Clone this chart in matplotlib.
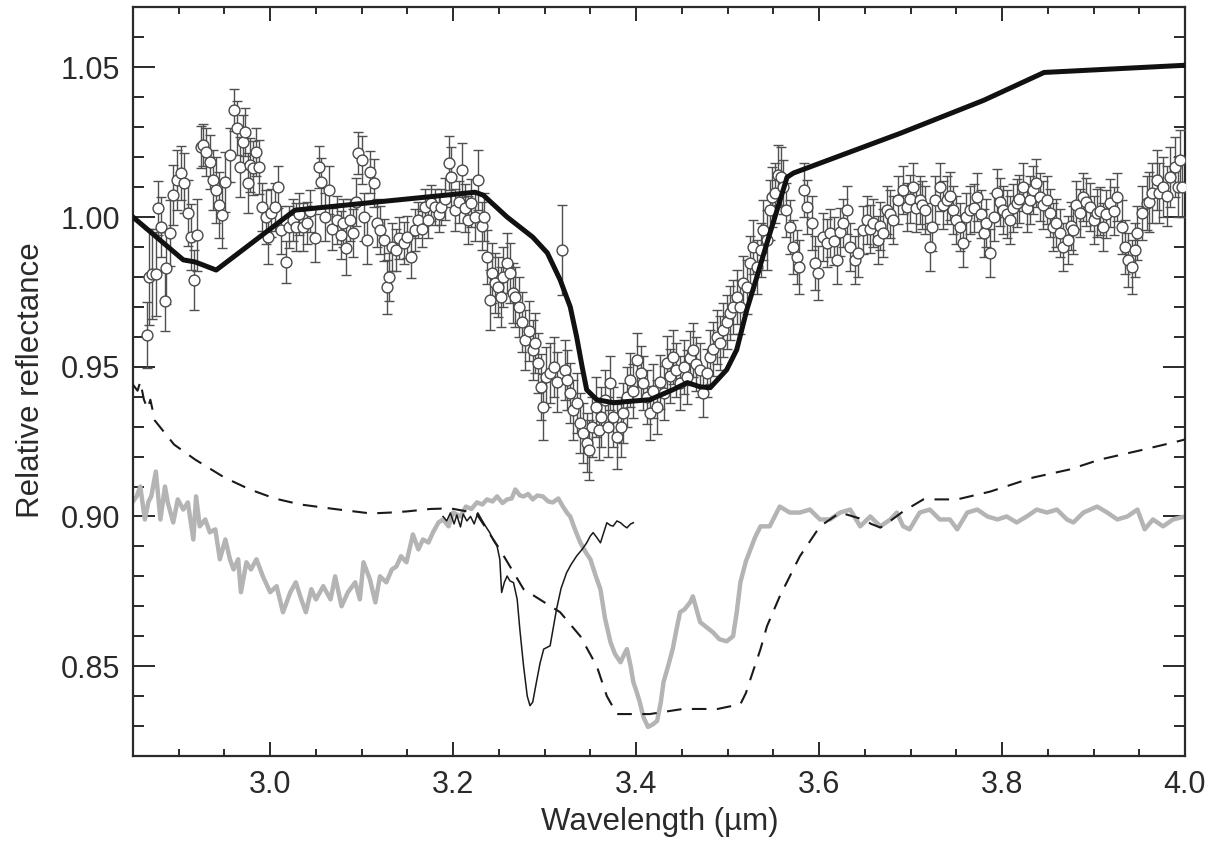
import numpy as np
import matplotlib
matplotlib.use("Agg")
import matplotlib.pyplot as plt
from matplotlib.ticker import MultipleLocator

plt.rcParams['font.family'] = ['Liberation Sans', 'DejaVu Sans']

# --- measured spectrum (open circles with error bars) ---
pts_x = [
    2.865, 2.868, 2.871, 2.875, 2.877, 2.881, 2.885, 2.886, 2.890, 2.894,
    2.898, 2.902, 2.906, 2.910, 2.913, 2.917, 2.920, 2.924, 2.927, 2.930,
    2.934, 2.938, 2.941, 2.944, 2.947, 2.951, 2.956, 2.960, 2.964, 2.967,
    2.970, 2.973, 2.976, 2.978, 2.981, 2.985, 2.988, 2.991, 2.995, 2.998,
    3.001, 3.005, 3.009, 3.012, 3.017, 3.021, 3.025, 3.028, 3.032, 3.036,
    3.040, 3.044, 3.049, 3.053, 3.056, 3.060, 3.064, 3.068, 3.073, 3.077,
    3.080, 3.083, 3.087, 3.090, 3.094, 3.096, 3.100, 3.103, 3.106, 3.109,
    3.113, 3.117, 3.120, 3.124, 3.128, 3.130, 3.133, 3.137, 3.141, 3.146,
    3.150, 3.154, 3.158, 3.162, 3.166, 3.169, 3.173, 3.176, 3.180, 3.184,
    3.187, 3.191, 3.195, 3.198, 3.202, 3.206, 3.210, 3.213, 3.216, 3.220,
    3.224, 3.227, 3.231, 3.234, 3.237, 3.240, 3.243, 3.246, 3.249, 3.252,
    3.255, 3.259, 3.262, 3.265, 3.268, 3.272, 3.275, 3.279, 3.283, 3.287,
    3.290, 3.293, 3.296, 3.298, 3.302, 3.306, 3.310, 3.314, 3.319, 3.322,
    3.325, 3.328, 3.331, 3.335, 3.339, 3.342, 3.346, 3.349, 3.352, 3.356,
    3.359, 3.362, 3.366, 3.369, 3.372, 3.375, 3.379, 3.383, 3.386, 3.390,
    3.393, 3.397, 3.401, 3.405, 3.408, 3.412, 3.415, 3.419, 3.423, 3.426,
    3.430, 3.434, 3.437, 3.440, 3.444, 3.448, 3.452, 3.456, 3.459, 3.462,
    3.466, 3.470, 3.473, 3.477, 3.481, 3.484, 3.488, 3.492, 3.495, 3.499,
    3.503, 3.506, 3.510, 3.514, 3.517, 3.521, 3.525, 3.528, 3.532, 3.536,
    3.539, 3.543, 3.546, 3.549, 3.552, 3.555, 3.558, 3.561, 3.564, 3.568,
    3.572, 3.576, 3.578, 3.583, 3.587, 3.592, 3.596, 3.599, 3.604, 3.609,
    3.612, 3.616, 3.620, 3.623, 3.626, 3.631, 3.634, 3.639, 3.643, 3.648,
    3.652, 3.656, 3.659, 3.664, 3.667, 3.670, 3.674, 3.677, 3.681, 3.686,
    3.692, 3.696, 3.699, 3.703, 3.706, 3.710, 3.713, 3.716, 3.721, 3.724,
    3.727, 3.732, 3.736, 3.740, 3.743, 3.746, 3.750, 3.754, 3.757, 3.761,
    3.765, 3.769, 3.773, 3.777, 3.780, 3.783, 3.787, 3.791, 3.795, 3.798,
    3.801, 3.805, 3.809, 3.812, 3.816, 3.819, 3.823, 3.827, 3.831, 3.834,
    3.837, 3.842, 3.845, 3.849, 3.852, 3.856, 3.859, 3.863, 3.867, 3.872,
    3.875, 3.878, 3.881, 3.885, 3.889, 3.892, 3.896, 3.900, 3.904, 3.907,
    3.910, 3.914, 3.918, 3.922, 3.926, 3.931, 3.934, 3.938, 3.942, 3.945,
    3.948, 3.953, 3.958, 3.961, 3.964, 3.969, 3.972, 3.976, 3.980, 3.984,
    3.989, 3.992, 3.995, 3.997,
]
pts_y = [
    0.9607, 0.9800, 0.9810, 0.9810, 1.0030, 0.9967, 0.9720, 0.9830, 0.9947, 1.0073,
    1.0123, 1.0147, 1.0113, 1.0013, 0.9933, 0.9790, 0.9940, 1.0233, 1.0240, 1.0217,
    1.0183, 1.0123, 1.0090, 1.0040, 1.0007, 1.0117, 1.0207, 1.0357, 1.0297, 1.0167,
    1.0250, 1.0283, 1.0113, 1.0173, 1.0163, 1.0217, 1.0167, 1.0033, 1.0000, 0.9933,
    1.0013, 1.0033, 1.0100, 0.9957, 0.9850, 0.9967, 0.9990, 0.9967, 1.0010, 0.9967,
    0.9980, 1.0020, 0.9930, 1.0167, 1.0117, 1.0000, 1.0090, 0.9960, 0.9990, 0.9940,
    0.9980, 0.9897, 0.9990, 0.9947, 1.0050, 1.0213, 1.0190, 1.0000, 0.9923, 1.0150,
    1.0113, 0.9980, 0.9957, 0.9923, 0.9767, 0.9800, 0.9900, 0.9890, 0.9930, 0.9913,
    0.9933, 0.9867, 0.9957, 0.9990, 0.9960, 1.0033, 0.9990, 1.0047, 1.0033, 1.0010,
    1.0033, 1.0060, 1.0180, 1.0133, 1.0023, 1.0050, 1.0157, 1.0030, 0.9990, 1.0047,
    1.0000, 1.0123, 0.9970, 1.0000, 0.9867, 0.9723, 0.9813, 0.9780, 0.9767, 0.9733,
    0.9800, 0.9847, 0.9813, 0.9747, 0.9733, 0.9700, 0.9650, 0.9590, 0.9620, 0.9557,
    0.9580, 0.9513, 0.9433, 0.9367, 0.9467, 0.9480, 0.9500, 0.9450, 0.9890, 0.9490,
    0.9457, 0.9413, 0.9357, 0.9380, 0.9313, 0.9280, 0.9247, 0.9223, 0.9300, 0.9367,
    0.9290, 0.9333, 0.9390, 0.9300, 0.9447, 0.9333, 0.9267, 0.9300, 0.9347, 0.9400,
    0.9457, 0.9420, 0.9523, 0.9480, 0.9447, 0.9400, 0.9347, 0.9420, 0.9367, 0.9450,
    0.9413, 0.9513, 0.9470, 0.9533, 0.9490, 0.9447, 0.9500, 0.9467, 0.9530, 0.9557,
    0.9510, 0.9490, 0.9413, 0.9480, 0.9533, 0.9560, 0.9600, 0.9580, 0.9623, 0.9650,
    0.9680, 0.9700, 0.9733, 0.9700, 0.9780, 0.9767, 0.9847, 0.9900, 0.9833, 0.9890,
    0.9957, 0.9923, 1.0023, 1.0067, 1.0080, 1.0140, 1.0133, 1.0100, 1.0023, 0.9967,
    0.9900, 0.9867, 0.9833, 1.0090, 1.0033, 0.9980, 0.9847, 0.9813, 0.9933, 0.9913,
    0.9947, 0.9920, 0.9857, 0.9950, 0.9980, 1.0023, 0.9900, 0.9857, 0.9880, 0.9957,
    0.9990, 0.9960, 0.9980, 0.9923, 0.9970, 0.9947, 1.0023, 1.0010, 0.9990, 1.0057,
    1.0090, 1.0033, 1.0060, 1.0100, 1.0030, 1.0057, 1.0040, 1.0023, 0.9900, 0.9967,
    1.0057, 1.0100, 1.0040, 1.0057, 1.0070, 1.0023, 0.9990, 0.9967, 0.9913, 1.0000,
    1.0023, 1.0030, 1.0067, 1.0010, 0.9947, 0.9980, 0.9880, 1.0000, 1.0080, 1.0050,
    1.0023, 1.0010, 0.9990, 1.0030, 1.0047, 1.0060, 1.0100, 1.0030, 1.0057, 1.0090,
    1.0113, 1.0067, 1.0040, 1.0057, 1.0013, 0.9967, 0.9980, 0.9947, 0.9900, 0.9923,
    0.9970, 0.9957, 1.0040, 1.0013, 1.0067, 1.0050, 1.0033, 0.9990, 1.0013, 1.0020,
    0.9967, 1.0010, 1.0047, 1.0020, 1.0067, 0.9967, 0.9900, 0.9857, 0.9833, 0.9890,
    0.9947, 1.0013, 1.0047, 1.0050, 1.0080, 1.0123, 1.0080, 1.0100, 1.0070, 1.0133,
    1.0167, 1.0100, 1.0190, 1.0100,
]
pts_err = [
    0.011, 0.016, 0.015, 0.014, 0.009, 0.010, 0.010, 0.012, 0.011, 0.010,
    0.010, 0.009, 0.010, 0.011, 0.011, 0.010, 0.012, 0.007, 0.007, 0.008,
    0.009, 0.010, 0.011, 0.011, 0.011, 0.010, 0.009, 0.007, 0.009, 0.010,
    0.009, 0.008, 0.010, 0.009, 0.009, 0.008, 0.009, 0.008, 0.009, 0.009,
    0.008, 0.008, 0.007, 0.008, 0.007, 0.007, 0.007, 0.008, 0.007, 0.008,
    0.007, 0.007, 0.008, 0.007, 0.008, 0.008, 0.008, 0.007, 0.008, 0.008,
    0.008, 0.009, 0.007, 0.008, 0.008, 0.007, 0.008, 0.008, 0.008, 0.007,
    0.008, 0.008, 0.008, 0.007, 0.009, 0.008, 0.008, 0.007, 0.007, 0.007,
    0.007, 0.007, 0.007, 0.006, 0.006, 0.006, 0.006, 0.006, 0.006, 0.006,
    0.006, 0.007, 0.009, 0.010, 0.007, 0.007, 0.009, 0.008, 0.008, 0.008,
    0.008, 0.010, 0.008, 0.008, 0.009, 0.010, 0.010, 0.010, 0.010, 0.010,
    0.010, 0.010, 0.010, 0.010, 0.010, 0.010, 0.010, 0.010, 0.010, 0.010,
    0.010, 0.010, 0.011, 0.011, 0.010, 0.010, 0.010, 0.010, 0.015, 0.010,
    0.010, 0.010, 0.010, 0.010, 0.010, 0.010, 0.010, 0.010, 0.010, 0.010,
    0.010, 0.010, 0.010, 0.010, 0.009, 0.010, 0.011, 0.010, 0.010, 0.010,
    0.009, 0.009, 0.009, 0.009, 0.009, 0.009, 0.009, 0.009, 0.009, 0.009,
    0.009, 0.009, 0.009, 0.009, 0.009, 0.009, 0.009, 0.009, 0.009, 0.009,
    0.009, 0.009, 0.008, 0.008, 0.009, 0.009, 0.009, 0.009, 0.009, 0.009,
    0.009, 0.009, 0.009, 0.009, 0.009, 0.009, 0.009, 0.009, 0.009, 0.009,
    0.010, 0.010, 0.010, 0.010, 0.010, 0.010, 0.010, 0.009, 0.009, 0.009,
    0.009, 0.009, 0.009, 0.009, 0.009, 0.009, 0.009, 0.009, 0.008, 0.008,
    0.008, 0.008, 0.008, 0.008, 0.008, 0.008, 0.008, 0.008, 0.008, 0.008,
    0.008, 0.008, 0.008, 0.008, 0.008, 0.008, 0.008, 0.008, 0.008, 0.008,
    0.008, 0.008, 0.008, 0.008, 0.008, 0.008, 0.008, 0.008, 0.008, 0.008,
    0.008, 0.008, 0.008, 0.008, 0.008, 0.008, 0.008, 0.008, 0.008, 0.008,
    0.008, 0.008, 0.008, 0.008, 0.008, 0.008, 0.008, 0.008, 0.008, 0.008,
    0.008, 0.008, 0.008, 0.008, 0.008, 0.008, 0.008, 0.008, 0.008, 0.008,
    0.008, 0.008, 0.008, 0.008, 0.008, 0.008, 0.008, 0.008, 0.008, 0.008,
    0.008, 0.008, 0.008, 0.008, 0.008, 0.008, 0.008, 0.008, 0.008, 0.008,
    0.008, 0.008, 0.008, 0.008, 0.008, 0.009, 0.009, 0.009, 0.009, 0.009,
    0.009, 0.009, 0.009, 0.010, 0.010, 0.010, 0.010, 0.010, 0.010, 0.010,
    0.010, 0.010, 0.010, 0.010,
]

# --- thick black model curve ---
model_x = [2.85, 2.905, 2.918, 2.941, 3.027, 3.224, 3.233, 3.259, 3.287, 3.303,
           3.317, 3.328, 3.335, 3.341, 3.346, 3.357, 3.375, 3.415, 3.44, 3.456,
           3.47, 3.481, 3.499, 3.51, 3.521, 3.532, 3.543, 3.554, 3.565, 3.572,
           3.689, 3.78, 3.846, 4.0]
model_y = [1.0, 0.9857, 0.985, 0.9823, 1.0023, 1.0083, 1.0073, 1.0, 0.9933, 0.988,
           0.979, 0.970, 0.960, 0.950, 0.9423, 0.939, 0.938, 0.939, 0.9423, 0.9447,
           0.9433, 0.943, 0.949, 0.9557, 0.969, 0.980, 0.9913, 1.0023, 1.0133, 1.0147,
           1.028, 1.039, 1.0483, 1.0507]

# --- dashed lab spectrum ---
dash_x = [2.85, 2.855, 2.858, 2.862, 2.866, 2.869, 2.874, 2.895, 2.918, 2.95,
          2.978, 3.005, 3.033, 3.07, 3.11, 3.131, 3.15, 3.175, 3.197, 3.215,
          3.226, 3.251, 3.277, 3.317, 3.339, 3.357, 3.368, 3.379, 3.415, 3.451,
          3.489, 3.514, 3.52, 3.525, 3.536, 3.543, 3.557, 3.568, 3.579, 3.601,
          3.623, 3.648, 3.657, 3.667, 3.68, 3.692, 3.714, 3.751, 3.787, 3.834,
          3.874, 3.907, 3.95, 3.987, 4.0]
dash_y = [0.944, 0.942, 0.945, 0.939, 0.936, 0.939, 0.932, 0.924, 0.919, 0.913,
          0.909, 0.906, 0.904, 0.9025, 0.901, 0.9013, 0.9017, 0.9025, 0.9027, 0.9017,
          0.9007, 0.889, 0.8757, 0.868, 0.860, 0.850, 0.840, 0.834, 0.834, 0.8357,
          0.8357, 0.8373, 0.841, 0.8457, 0.8557, 0.8633, 0.8733, 0.880, 0.8867, 0.8967,
          0.9013, 0.899, 0.8975, 0.8963, 0.899, 0.9017, 0.9057, 0.9057, 0.9083, 0.913,
          0.9157, 0.919, 0.922, 0.9247, 0.9257]

# --- thin black lab spectrum ---
thin_x = [3.189, 3.193, 3.197, 3.201, 3.204, 3.208, 3.211, 3.215, 3.219, 3.223,
          3.227, 3.232, 3.236, 3.240, 3.244, 3.248, 3.251, 3.253, 3.256, 3.259,
          3.262, 3.266, 3.270, 3.273, 3.277, 3.281, 3.284, 3.287, 3.291, 3.295,
          3.299, 3.306, 3.313, 3.318, 3.324, 3.329, 3.335, 3.341, 3.346, 3.350,
          3.353, 3.357, 3.361, 3.365, 3.368, 3.372, 3.375, 3.379, 3.383, 3.387,
          3.390, 3.394, 3.397]
thin_y = [0.900, 0.8985, 0.9012, 0.8975, 0.9005, 0.8965, 0.9008, 0.8985, 0.900, 0.8975,
          0.9012, 0.8985, 0.8965, 0.8946, 0.892, 0.8901, 0.8857, 0.8746, 0.878, 0.8801,
          0.8785, 0.8779, 0.8723, 0.862, 0.850, 0.840, 0.8368, 0.838, 0.8446, 0.851,
          0.8557, 0.8568, 0.869, 0.876, 0.8812, 0.884, 0.8868, 0.889, 0.8912, 0.8935,
          0.8946, 0.893, 0.8912, 0.895, 0.8979, 0.897, 0.8968, 0.8985, 0.8979, 0.8968,
          0.8962, 0.8975, 0.8979]

# --- grey lab spectrum ---
grey_x = [2.850, 2.854, 2.858, 2.863, 2.867, 2.870, 2.875, 2.880, 2.885, 2.888,
          2.894, 2.899, 2.905, 2.910, 2.916, 2.919, 2.923, 2.929, 2.934, 2.940,
          2.945, 2.951, 2.956, 2.960, 2.965, 2.968, 2.974, 2.979, 2.985, 2.992,
          3.000, 3.007, 3.014, 3.022, 3.028, 3.034, 3.039, 3.045, 3.050, 3.058,
          3.066, 3.071, 3.078, 3.085, 3.093, 3.098, 3.102, 3.109, 3.115, 3.120,
          3.127, 3.133, 3.138, 3.143, 3.149, 3.156, 3.162, 3.167, 3.173, 3.178,
          3.184, 3.189, 3.195, 3.200, 3.208, 3.214, 3.220, 3.226, 3.232, 3.237,
          3.243, 3.248, 3.254, 3.259, 3.264, 3.268, 3.273, 3.277, 3.282, 3.287,
          3.292, 3.298, 3.304, 3.309, 3.315, 3.320, 3.325, 3.328, 3.334, 3.339,
          3.345, 3.350, 3.356, 3.361, 3.366, 3.372, 3.377, 3.383, 3.387, 3.390,
          3.394, 3.397, 3.401, 3.404, 3.408, 3.413, 3.418, 3.423, 3.427, 3.430,
          3.435, 3.440, 3.444, 3.448, 3.453, 3.459, 3.462, 3.466, 3.470, 3.477,
          3.484, 3.491, 3.499, 3.506, 3.510, 3.514, 3.520, 3.525, 3.530, 3.536,
          3.546, 3.557, 3.568, 3.579, 3.590, 3.601, 3.612, 3.623, 3.634, 3.645,
          3.656, 3.667, 3.678, 3.685, 3.692, 3.699, 3.710, 3.721, 3.732, 3.743,
          3.751, 3.762, 3.773, 3.784, 3.795, 3.805, 3.816, 3.827, 3.838, 3.849,
          3.860, 3.871, 3.878, 3.889, 3.904, 3.915, 3.926, 3.937, 3.948, 3.956,
          3.965, 3.976, 3.987, 4.000]
grey_y = [0.905, 0.9067, 0.910, 0.899, 0.905, 0.9067, 0.915, 0.899, 0.910, 0.9047,
          0.898, 0.9057, 0.9023, 0.9047, 0.8923, 0.9067, 0.8967, 0.899, 0.8947, 0.8957,
          0.8857, 0.8923, 0.8857, 0.8823, 0.8857, 0.8747, 0.8847, 0.8823, 0.8857, 0.880,
          0.8747, 0.8767, 0.868, 0.8747, 0.878, 0.8723, 0.868, 0.8757, 0.8723, 0.8767,
          0.8723, 0.880, 0.870, 0.8747, 0.878, 0.8723, 0.8847, 0.879, 0.8713, 0.880,
          0.878, 0.8823, 0.8833, 0.8867, 0.8847, 0.894, 0.889, 0.8923, 0.8913, 0.8947,
          0.898, 0.899, 0.8967, 0.9013, 0.900, 0.9033, 0.9025, 0.9047, 0.904, 0.9057,
          0.905, 0.9067, 0.9045, 0.9057, 0.906, 0.909, 0.907, 0.9067, 0.9075, 0.9057,
          0.907, 0.9067, 0.905, 0.9047, 0.906, 0.9033, 0.901, 0.900, 0.895, 0.8913,
          0.888, 0.8857, 0.880, 0.8757, 0.866, 0.858, 0.854, 0.8513, 0.854, 0.8557,
          0.850, 0.8447, 0.841, 0.838, 0.833, 0.8297, 0.8305, 0.8317, 0.838, 0.8447,
          0.850, 0.8557, 0.862, 0.868, 0.869, 0.8713, 0.8733, 0.869, 0.8647, 0.863,
          0.8613, 0.859, 0.8583, 0.860, 0.868, 0.878, 0.885, 0.889, 0.893, 0.8967,
          0.8967, 0.9033, 0.9013, 0.9013, 0.9023, 0.899, 0.899, 0.9013, 0.9023, 0.8967,
          0.900, 0.8967, 0.899, 0.9013, 0.8967, 0.8957, 0.9013, 0.9023, 0.899, 0.899,
          0.8957, 0.9013, 0.9023, 0.900, 0.899, 0.900, 0.898, 0.900, 0.9023, 0.9013,
          0.9023, 0.899, 0.898, 0.9013, 0.9033, 0.9013, 0.899, 0.900, 0.9023, 0.8957,
          0.899, 0.8967, 0.899, 0.900]

fig = plt.figure(figsize=(12.21, 8.41), dpi=100)
ax = fig.add_axes([0.1089, 0.1011, 0.8616, 0.89])

ink = '#2a2a2a'
ax.plot(grey_x, grey_y, color='#b4b4b4', lw=3.2, zorder=2)
ax.plot(dash_x, dash_y, color='#1a1a1a', lw=1.5, dashes=(7, 5), zorder=3)
ax.plot(thin_x, thin_y, color='#1a1a1a', lw=1.1, zorder=3)

ax.errorbar(pts_x, pts_y, yerr=pts_err, fmt='none', ecolor='#505050',
            elinewidth=1.0, capsize=3.5, capthick=1.0, zorder=4)
ax.plot(pts_x, pts_y, 'o', ms=7.8, mfc='white', mec='#4a4a4a', mew=1.0, zorder=5)

ax.plot(model_x, model_y, color='#111111', lw=3.6, zorder=6)

ax.set_xlim(2.85, 4.0)
ax.set_ylim(0.82, 1.07)
ax.xaxis.set_minor_locator(MultipleLocator(0.05))
ax.yaxis.set_minor_locator(MultipleLocator(0.01))
ax.set_xticks([3.0, 3.2, 3.4, 3.6, 3.8, 4.0])
ax.set_xticklabels(['3.0', '3.2', '3.4', '3.6', '3.8', '4.0'])
ax.set_yticks([0.85, 0.90, 0.95, 1.00, 1.05])
ax.set_yticklabels(['0.85', '0.90', '0.95', '1.00', '1.05'])

ax.tick_params(axis='both', which='both', direction='in', top=True, right=True,
               colors=ink, labelcolor=ink, width=1.4, labelsize=22)
ax.tick_params(axis='x', which='major', length=10, pad=10)
ax.tick_params(axis='x', which='minor', length=5)
ax.tick_params(axis='y', which='major', length=16, pad=9)
ax.tick_params(axis='y', which='minor', length=8)
for s in ax.spines.values():
    s.set_linewidth(1.6)
    s.set_color(ink)

fig.text(0.025, 0.548, 'Relative reflectance', rotation=90, ha='center',
         va='center', fontsize=22.5, color=ink)
fig.text(0.540, 0.0226, 'Wavelength (µm)', ha='center', va='center',
         fontsize=22.5, color=ink)

fig.savefig('out.png', dpi=100)
